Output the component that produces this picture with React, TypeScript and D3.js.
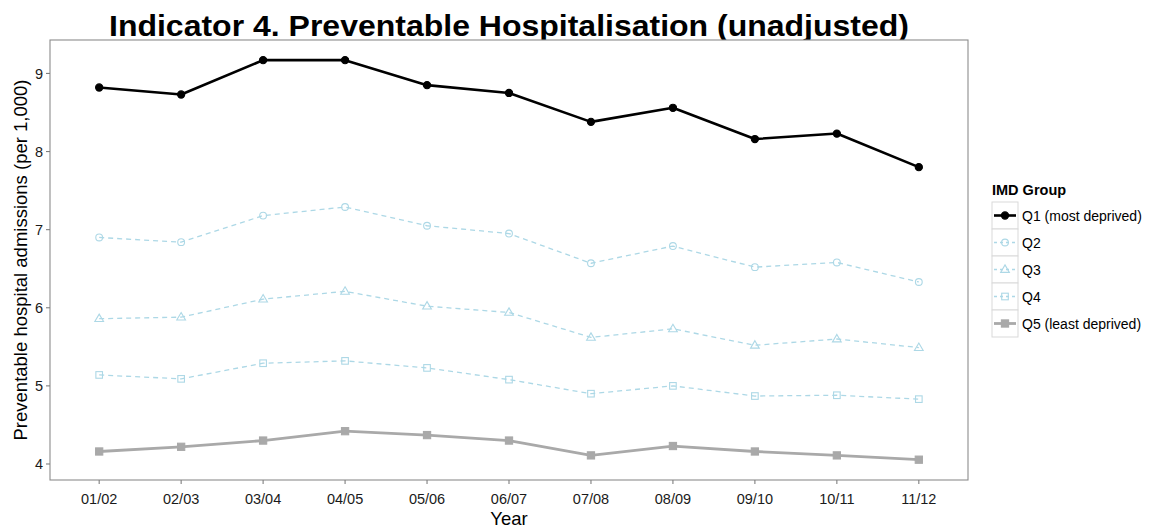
import React from "react";
import * as d3 from "d3";

const years = ["01/02", "02/03", "03/04", "04/05", "05/06", "06/07", "07/08", "08/09", "09/10", "10/11", "11/12"];
const q1 = [8.82, 8.73, 9.17, 9.17, 8.85, 8.75, 8.38, 8.56, 8.16, 8.23, 7.8];
const q2 = [6.9, 6.84, 7.18, 7.29, 7.05, 6.95, 6.57, 6.79, 6.52, 6.58, 6.33];
const q3 = [5.86, 5.88, 6.11, 6.21, 6.02, 5.94, 5.62, 5.73, 5.52, 5.6, 5.49];
const q4 = [5.14, 5.09, 5.29, 5.32, 5.23, 5.08, 4.9, 5.0, 4.87, 4.88, 4.83];
const q5 = [4.16, 4.22, 4.3, 4.42, 4.37, 4.3, 4.11, 4.23, 4.16, 4.11, 4.055];
const yTicks = [4, 5, 6, 7, 8, 9];
const seriesNames = ["Q1 (most deprived)", "Q2", "Q3", "Q4", "Q5 (least deprived)"];

type Style = { color: string; width: number; dash: string | null; shape: string; fill: boolean };
const styles: Style[] = [
  { color: "#000000", width: 2.6, dash: null, shape: "circle", fill: true },
  { color: "#add8e6", width: 1.3, dash: "5,4", shape: "circle", fill: false },
  { color: "#add8e6", width: 1.3, dash: "5,4", shape: "triangle", fill: false },
  { color: "#add8e6", width: 1.3, dash: "5,4", shape: "square", fill: false },
  { color: "#a9a9a9", width: 2.8, dash: null, shape: "square", fill: true },
];

function Marker({ x, y, s, scale = 1 }: { x: number; y: number; s: Style; scale?: number }) {
  if (s.shape === "circle") {
    return <circle cx={x} cy={y} r={(s.fill ? 3.6 : 3.4) * scale} fill={s.fill ? s.color : "none"} stroke={s.color} strokeWidth={1.1} />;
  }
  if (s.shape === "triangle") {
    const r = 4.6 * scale;
    const pts = [[x, y - r], [x + r * 0.95, y + r * 0.62], [x - r * 0.95, y + r * 0.62]].map((p) => p.join(",")).join(" ");
    return <polygon points={pts} fill="none" stroke={s.color} strokeWidth={1.1} />;
  }
  const h = (s.fill ? 3.6 : 3.3) * scale;
  return <rect x={x - h} y={y - h} width={2 * h} height={2 * h} fill={s.fill ? s.color : "none"} stroke={s.color} strokeWidth={1.1} />;
}

export default function App() {
  const W = 1157, H = 529;
  const left = 50, right = 968, top = 40, bottom = 480;
  const data = [q1, q2, q3, q4, q5];
  const x = d3.scalePoint<string>().domain(years).range([left, right]).padding(0.6);
  const y = d3.scaleLinear().domain([3.795, 9.428]).range([bottom, top]);
  const line = d3.line<number>().x((_, i) => x(years[i]) as number).y((d) => y(d));
  const font = "'Liberation Sans', Arial, Helvetica, sans-serif";
  const order = [4, 3, 2, 1, 0];
  const legX = 992, legY = 202, keyW = 26, keyH = 27;
  return (
    <svg width={W} height={H} style={{ position: "absolute", left: 0, top: 0 }} fontFamily={font}>
      <rect x={0} y={0} width={W} height={H} fill="#fff" />
      <text x={(left + right) / 2} y={36} textAnchor="middle" fontSize={30} fontWeight="bold" fill="#000" textLength={800} lengthAdjust="spacingAndGlyphs">
        Indicator 4. Preventable Hospitalisation (unadjusted)
      </text>
      <rect x={left} y={top} width={right - left} height={bottom - top} fill="#fff" stroke="#8c8c8c" strokeWidth={1.1} />
      {yTicks.map((t) => (
        <g key={t}>
          <line x1={left - 4} x2={left} y1={y(t)} y2={y(t)} stroke="#7f7f7f" strokeWidth={1.1} />
          <text x={left - 7} y={y(t)} dy="0.36em" textAnchor="end" fontSize={14.5} fill="#1a1a1a">{t}</text>
        </g>
      ))}
      {years.map((yr) => (
        <g key={yr}>
          <line x1={x(yr)} x2={x(yr)} y1={bottom} y2={bottom + 4} stroke="#7f7f7f" strokeWidth={1.1} />
          <text x={x(yr)} y={bottom + 24} textAnchor="middle" fontSize={14.5} fill="#1a1a1a">{yr}</text>
        </g>
      ))}
      <text x={(left + right) / 2} y={525} textAnchor="middle" fontSize={18.5} fill="#000">Year</text>
      <text transform={`translate(27,${(top + bottom) / 2}) rotate(-90)`} textAnchor="middle" fontSize={18.5} fill="#000">
        Preventable hospital admissions (per 1,000)
      </text>
      {order.map((si) => (
        <g key={si}>
          <path d={line(data[si]) || ""} fill="none" stroke={styles[si].color} strokeWidth={styles[si].width} strokeDasharray={styles[si].dash || undefined} strokeLinejoin="round" />
          {data[si].map((v, i) => (
            <Marker key={i} x={x(years[i]) as number} y={y(v)} s={styles[si]} />
          ))}
        </g>
      ))}
      <text x={legX} y={195} fontSize={14.5} fontWeight="bold" fill="#000">IMD Group</text>
      {seriesNames.map((nm, i) => {
        const ky = legY + i * keyH;
        const s = styles[i];
        return (
          <g key={nm}>
            <rect x={legX} y={ky} width={keyW} height={keyH} fill="#fff" stroke="#d9d9d9" strokeWidth={1} />
            <line x1={legX + 2} x2={legX + keyW - 2} y1={ky + keyH / 2} y2={ky + keyH / 2} stroke={s.color} strokeWidth={s.width} strokeDasharray={s.dash ? "3,3" : undefined} />
            <Marker x={legX + keyW / 2} y={ky + keyH / 2} s={s} />
            <text x={legX + keyW + 4} y={ky + keyH / 2} dy="0.36em" fontSize={14} fill="#000">{nm}</text>
          </g>
        );
      })}
    </svg>
  );
}
